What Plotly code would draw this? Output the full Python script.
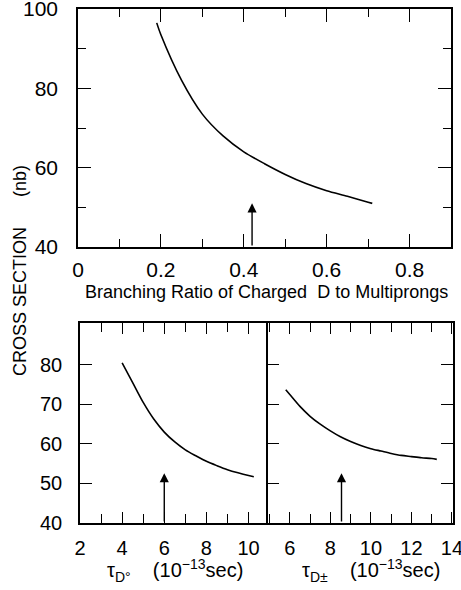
import plotly.graph_objects as go

# Top panel: cross section vs branching ratio
br_x = [0.19, 0.20, 0.25, 0.30, 0.35, 0.40, 0.45, 0.50, 0.55, 0.60, 0.65, 0.70, 0.71]
br_y = [96.5, 93.5, 82.0, 73.5, 68.0, 64.0, 61.0, 58.3, 56.0, 54.2, 52.8, 51.3, 51.0]
br_arrow_x = 0.42

# Bottom left: vs tau D0
t0_x = [4.0, 4.5, 5.0, 5.5, 6.0, 6.5, 7.0, 7.5, 8.0, 8.5, 9.0, 9.5, 10.0, 10.25]
t0_y = [80.5, 75.5, 70.5, 66.3, 63.0, 60.5, 58.5, 57.0, 55.6, 54.5, 53.5, 52.7, 52.0, 51.7]
t0_arrow_x = 6.0

# Bottom right: vs tau D+-
tc_x = [5.8, 6.0, 6.5, 7.0, 7.5, 8.0, 8.5, 9.0, 9.5, 10.0, 10.5, 11.0, 11.5, 12.0, 12.5, 13.0, 13.25]
tc_y = [73.7, 72.5, 69.5, 67.0, 65.0, 63.3, 61.8, 60.6, 59.6, 58.8, 58.2, 57.6, 57.1, 56.8, 56.5, 56.3, 56.1]
tc_arrow_x = 8.55

top_xticks = [0, 0.2, 0.4, 0.6, 0.8]
top_yticks = [40, 60, 80, 100]
bot_yticks = [40, 50, 60, 70, 80]
bl_xticks = [2, 4, 6, 8, 10]
br_xticks = [6, 8, 10, 12, 14]

W, H = 461, 590
FONT = "Liberation Sans, Arial, sans-serif"

def px_x(p):
    return p / W

def px_y(p):
    return 1 - p / H

fig = go.Figure()
line = dict(color="black", width=1.6, shape="spline", smoothing=0.8)
fig.add_trace(go.Scatter(x=br_x, y=br_y, mode="lines", line=line, xaxis="x", yaxis="y", showlegend=False))
fig.add_trace(go.Scatter(x=t0_x, y=t0_y, mode="lines", line=line, xaxis="x2", yaxis="y2", showlegend=False))
fig.add_trace(go.Scatter(x=tc_x, y=tc_y, mode="lines", line=line, xaxis="x3", yaxis="y3", showlegend=False))

def ax(**kw):
    d = dict(showline=True, linecolor="black", linewidth=1.6, mirror="ticks", ticks="inside",
             ticklen=12, tickwidth=1.3, tickcolor="black", showgrid=False, zeroline=False,
             ticklabeloverflow="allow", automargin=False,
             tickfont=dict(family=FONT, size=20, color="black"))
    d.update(kw)
    return d

def minor(dt, ln):
    return dict(dtick=dt, tick0=0, ticks="inside", ticklen=ln, tickwidth=1.3, tickcolor="black")

fig.update_layout(
    width=W, height=H, margin=dict(l=0, r=0, t=0, b=0, autoexpand=False),
    paper_bgcolor="white", plot_bgcolor="white",
    xaxis=ax(domain=[px_x(78), px_x(451)], range=[0, 0.9], anchor="y",
             tickvals=top_xticks, ticktext=["0", "0.2", "0.4", "0.6", "0.8"],
             ticklen=13, minor=minor(0.1, 8), ticklabelstandoff=3,
             tickfont=dict(family=FONT, size=21, color="black")),
    yaxis=ax(domain=[px_y(247), px_y(9)], range=[40, 100], anchor="x",
             tickvals=top_yticks, ticklen=13, minor=minor(10, 8), ticklabelstandoff=14,
             tickfont=dict(family=FONT, size=21, color="black")),
    xaxis2=ax(domain=[px_x(80), px_x(267.5)], range=[2, 10.9], anchor="y2",
              tickvals=bl_xticks, ticklen=11, minor=minor(1, 9), ticklabelstandoff=6),
    yaxis2=ax(domain=[px_y(523), px_y(323)], range=[40, 90.6], anchor="x2",
              tickvals=bot_yticks, mirror=False, ticklen=12, ticklabelstandoff=12),
    xaxis3=ax(domain=[px_x(267.5), px_x(453)], range=[4.9, 14.05], anchor="y3",
              tickvals=br_xticks, ticklen=11, minor=minor(1, 9), ticklabelstandoff=6),
    yaxis3=ax(domain=[px_y(523), px_y(323)], range=[40, 90.6], anchor="x3",
              tickvals=bot_yticks, showticklabels=False, ticklen=12),
)

def arrow(xv, ytop, xr, yr):
    fig.add_annotation(x=xv, y=ytop, ax=xv, ay=40, xref=xr, yref=yr, axref=xr, ayref=yr,
                       showarrow=True, arrowhead=2, arrowsize=1.3, arrowwidth=1.4,
                       arrowcolor="black", text="")

arrow(br_arrow_x, 51, "x", "y")
arrow(t0_arrow_x, 52.6, "x2", "y2")
arrow(tc_arrow_x, 52.6, "x3", "y3")

def label(text, xp, yp, size, angle=0):
    fig.add_annotation(text=text, x=px_x(xp), y=px_y(yp), xref="paper", yref="paper",
                       xanchor="center", yanchor="middle", showarrow=False, textangle=angle,
                       font=dict(family=FONT, size=size, color="black"))

label("Branching Ratio of Charged  D to Multiprongs", 266, 292, 18)
label("τ<sub>D°</sub>&nbsp;&nbsp;&nbsp;&nbsp;(10<sup>−13</sup>sec)", 175, 570, 20)
label("τ<sub>D±</sub>&nbsp;&nbsp;&nbsp;&nbsp;(10<sup>−13</sup>sec)", 371, 570, 20)
label("CROSS SECTION&nbsp;&nbsp;&nbsp;&nbsp;&nbsp;&nbsp;(nb)", 20, 271, 18, -90)

fig.write_html("out.html")
